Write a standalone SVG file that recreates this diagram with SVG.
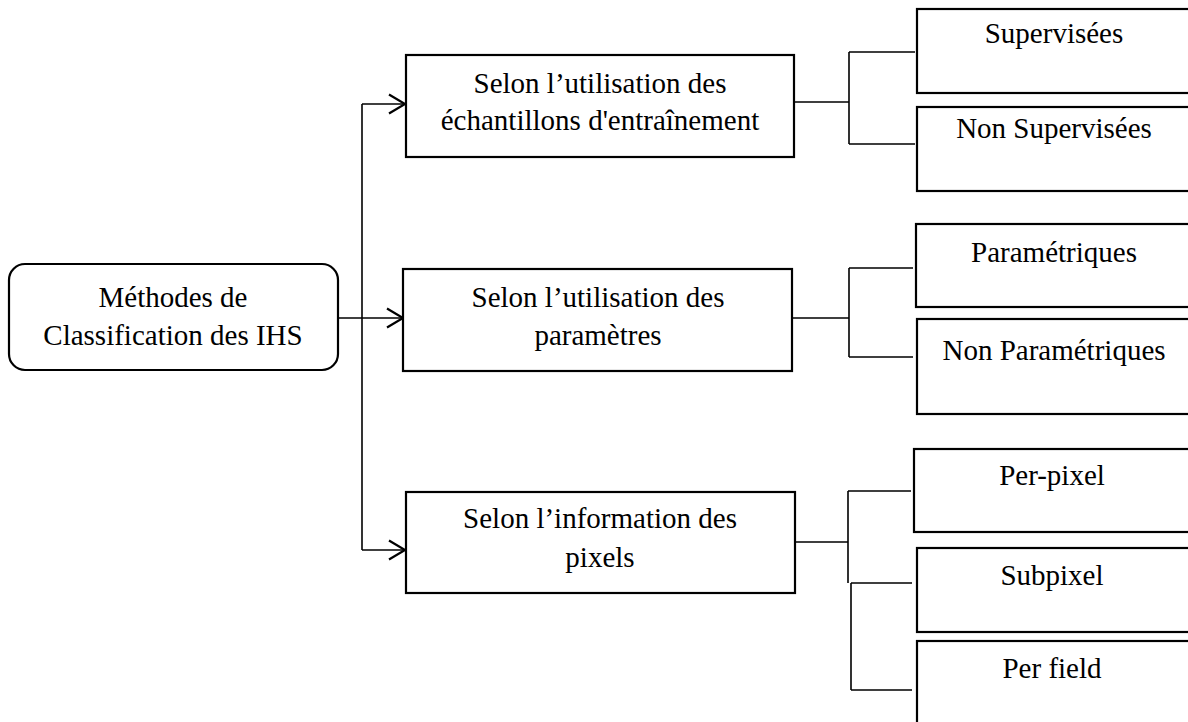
<svg xmlns="http://www.w3.org/2000/svg" width="1188" height="722" viewBox="0 0 1188 722">
<defs>
<style>
.box{fill:#fff;stroke:#000;stroke-width:2.2}
.ln{fill:none;stroke:#000;stroke-width:1.6}
text{font-family:"Liberation Serif","Times New Roman",serif;font-size:29px;fill:#000;text-anchor:middle}
</style>
<marker id="arr" markerWidth="22" markerHeight="24" refX="18" refY="11" orient="auto" markerUnits="userSpaceOnUse">
<path d="M2,1.5 L18,11 L2,20.5" fill="none" stroke="#000" stroke-width="2.2"/>
</marker>
</defs>
<rect width="1188" height="722" fill="#fff"/>
<g id="connectors">
<path class="ln" d="M338,318 H403" marker-end="url(#arr)"/>
<path class="ln" d="M362,104 V550"/>
<path class="ln" d="M362,104 H405" marker-end="url(#arr)"/>
<path class="ln" d="M362,550 H405" marker-end="url(#arr)"/>
<path class="ln" d="M794,102 H849 M849,52 V144 M849,52 H915 M849,144 H915"/>
<path class="ln" d="M792,318 H849 M849,268 V357 M849,268 H913 M849,357 H913"/>
<path class="ln" d="M794,542 H848 M848,491 V583 M848,491 H911 M851,583 V690 M851,583 H912 M851,690 H912"/>
</g>
<g id="root">
<rect class="box" x="9" y="264" width="329" height="106" rx="16"/>
<text x="173" y="307">Méthodes de</text>
<text x="173" y="345">Classification des IHS</text>
</g>
<g id="n1">
<rect class="box" x="406" y="55" width="388" height="102"/>
<text x="600" y="93">Selon l’utilisation des</text>
<text x="600" y="130">échantillons d'entraînement</text>
</g>
<g id="n2">
<rect class="box" x="403" y="269" width="389" height="102"/>
<text x="598" y="307">Selon l’utilisation des</text>
<text x="598" y="345">paramètres</text>
</g>
<g id="n3">
<rect class="box" x="406" y="492" width="389" height="101"/>
<text x="600" y="528">Selon l’information des</text>
<text x="600" y="567">pixels</text>
</g>
<g id="n1a">
<rect class="box" x="917" y="9" width="280" height="84"/>
<text x="1054" y="43">Supervisées</text>
</g>
<g id="n1b">
<rect class="box" x="917" y="107" width="280" height="84"/>
<text x="1054" y="138">Non Supervisées</text>
</g>
<g id="n2a">
<rect class="box" x="916" y="224" width="280" height="83"/>
<text x="1054" y="262">Paramétriques</text>
</g>
<g id="n2b">
<rect class="box" x="917" y="319" width="280" height="95"/>
<text x="1054" y="360">Non Paramétriques</text>
</g>
<g id="n3a">
<rect class="box" x="914" y="449" width="280" height="83"/>
<text x="1052" y="485">Per-pixel</text>
</g>
<g id="n3b">
<rect class="box" x="917" y="548" width="280" height="84"/>
<text x="1052" y="585">Subpixel</text>
</g>
<g id="n3c">
<rect class="box" x="917" y="641" width="280" height="100"/>
<text x="1052" y="678">Per field</text>
</g>
</svg>
